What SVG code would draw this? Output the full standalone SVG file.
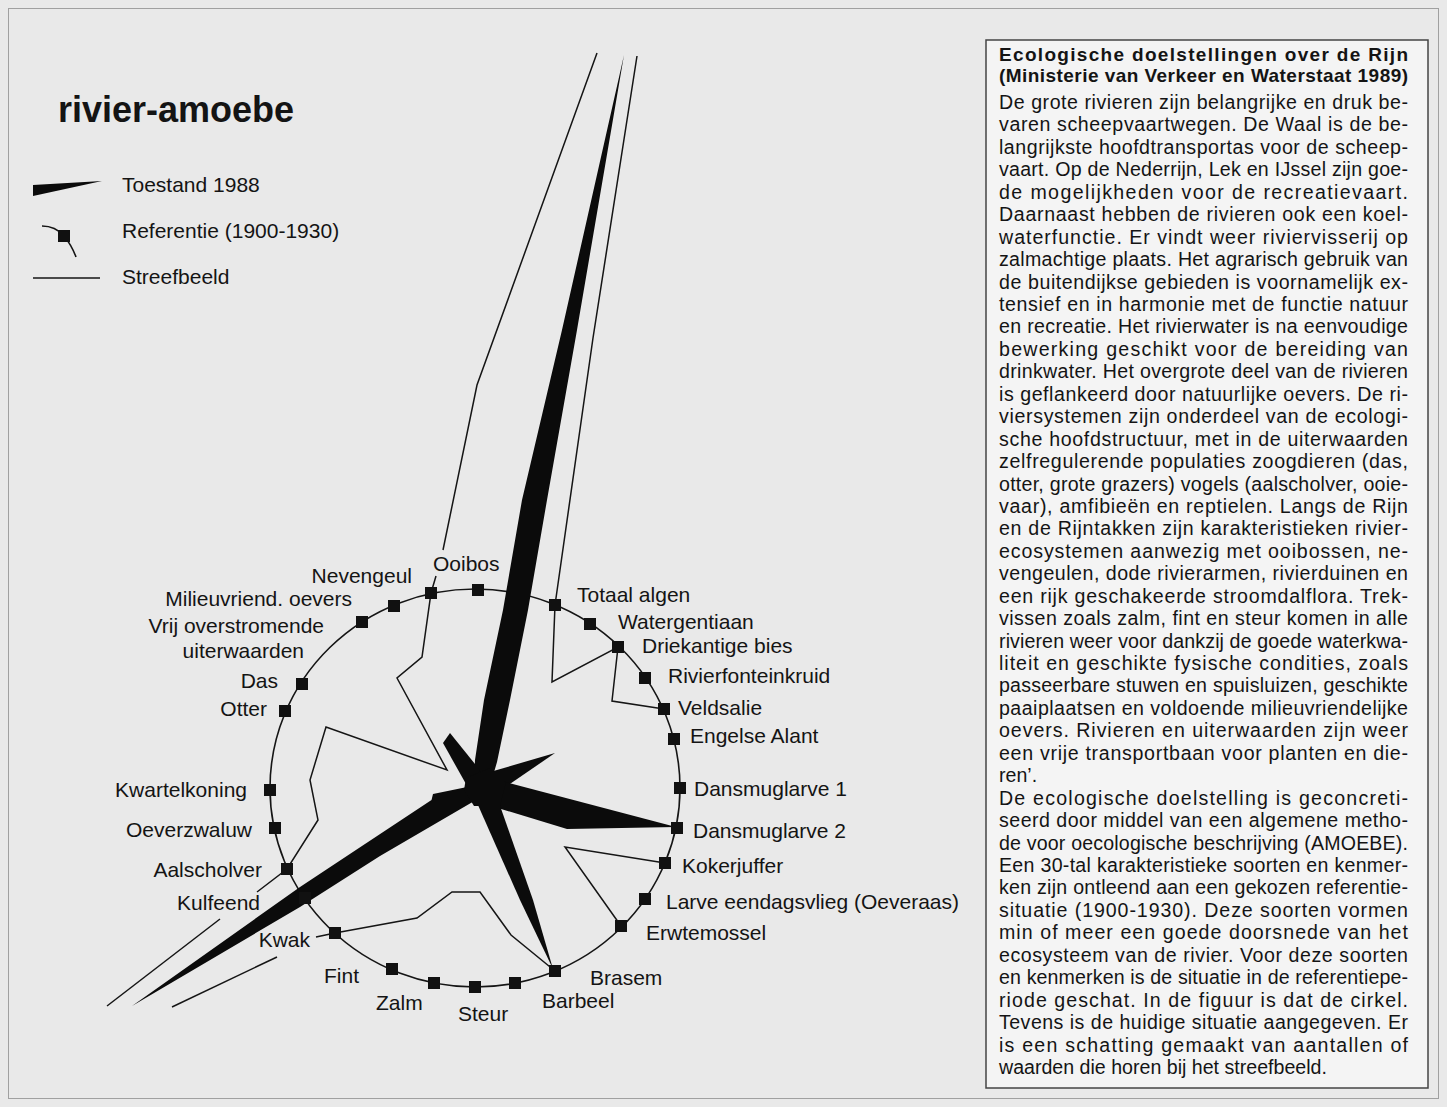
<svg xmlns="http://www.w3.org/2000/svg" width="1447" height="1107" viewBox="0 0 1447 1107">
<style>
text{font-family:"Liberation Sans",Arial,Helvetica,sans-serif;fill:#141414}
.lbl{font-size:21px}
.lble{font-size:21px;text-anchor:end}
.body{font-size:19.6px}
.hd{font-size:19px;font-weight:bold}
.title{font-size:36px;font-weight:bold}
.sq{fill:#111}
.ref{fill:none;stroke:#151515;stroke-width:1.6}
.goal{fill:none;stroke:#151515;stroke-width:1.5;stroke-linejoin:miter}
.cur{fill:#0b0b0b}
</style>
<defs>
<rect id="sq" x="-6" y="-6" width="12" height="12" fill="#111"/>
</defs>
<rect x="0" y="0" width="1447" height="1107" fill="#e9e9e9"/>
<rect x="8.5" y="8.5" width="1430" height="1090" fill="none" stroke="#a0a0a0" stroke-width="1"/>

<g id="title"><text class="title" x="58" y="122">rivier-amoebe</text></g>

<g id="legend">
<polygon class="cur" points="33,185 102,181 33,196"/>
<text class="lbl" x="122" y="192">Toestand 1988</text>
<path class="ref" d="M42,226 C50,226 58,229 64,236 C69,242 73,249 76,257"/>
<use href="#sq" x="64" y="236"/>
<text class="lbl" x="122" y="238">Referentie (1900-1930)</text>
<line class="goal" x1="33" y1="278" x2="100" y2="278"/>
<text class="lbl" x="122" y="284">Streefbeeld</text>
</g>

<g id="connectors">
<ellipse id="referentie-cirkel" class="ref" cx="475" cy="788" rx="205" ry="199"/>
<g id="streefbeeld" class="goal">
<polyline points="436,576 431,593 422,657 397,678 447,770 326,727 310,780 318,820 287,869 257,892"/>
<polyline points="220,919 107,1006"/>
<polyline points="172,1007 277,957"/>
<polyline points="316,937 335,933 417,918 452,892 480,892 511,935 555,971"/>
<polyline points="621,926 565,847 665,863"/>
<polyline points="664,709 612,701 618,647 552,682 555,605 593,338 637,56"/>
<polyline points="597,53 477,385 443,550"/>
</g>
</g>

<g id="toestand-1988" class="cur">
<polygon points="624,55 577,330 547,500 528,610 510,700 497,762 490,786 474,788 475,760 484,700 503,610 522,500 562,330"/>
<polygon points="443,743 450,733 479,769 484,788 466,784"/>
<polygon points="490,772 555,753 507,786"/>
<polygon points="498,780 676,827 567,829 488,805"/>
<polygon points="474,796 498,800 533,900 553,969 520,900"/>
<polygon points="472,786 433,794 431.5,800 300,887 132,1006 300,907 380,856 476,800"/>
<polygon points="466,778 490,768 506,782 500,806 474,806 464,790"/>
</g>

<g id="node-ooibos"><use href="#sq" x="478" y="590"/><text class="lbl" x="433" y="571">Ooibos</text></g>
<g id="node-nevengeul"><use href="#sq" x="431" y="593"/><text class="lble" x="412" y="583">Nevengeul</text></g>
<g id="node-milieuvriend"><use href="#sq" x="394" y="606"/><text class="lble" x="352" y="606">Milieuvriend. oevers</text></g>
<g id="node-vrij-overstromend"><use href="#sq" x="362" y="622"/><text class="lble" x="324" y="633">Vrij overstromende</text><text class="lble" x="304" y="658">uiterwaarden</text></g>
<g id="node-das"><use href="#sq" x="302" y="684"/><text class="lble" x="278" y="688">Das</text></g>
<g id="node-otter"><use href="#sq" x="285" y="711"/><text class="lble" x="267" y="716">Otter</text></g>
<g id="node-kwartelkoning"><use href="#sq" x="270" y="790"/><text class="lble" x="247" y="797">Kwartelkoning</text></g>
<g id="node-oeverzwaluw"><use href="#sq" x="275" y="828"/><text class="lble" x="252" y="837">Oeverzwaluw</text></g>
<g id="node-aalscholver"><use href="#sq" x="287" y="869"/><text class="lble" x="262" y="877">Aalscholver</text></g>
<g id="node-kulfeend"><use href="#sq" x="305" y="898"/><text class="lble" x="260" y="910">Kulfeend</text></g>
<g id="node-kwak"><use href="#sq" x="335" y="933"/><text class="lble" x="310" y="947">Kwak</text></g>
<g id="node-fint"><use href="#sq" x="392" y="969"/><text class="lbl" x="324" y="983">Fint</text></g>
<g id="node-zalm"><use href="#sq" x="434" y="983"/><text class="lbl" x="376" y="1010">Zalm</text></g>
<g id="node-steur"><use href="#sq" x="475" y="987"/><text class="lbl" x="458" y="1021">Steur</text></g>
<g id="node-barbeel"><use href="#sq" x="515" y="983"/><text class="lbl" x="542" y="1008">Barbeel</text></g>
<g id="node-brasem"><use href="#sq" x="555" y="971"/><text class="lbl" x="590" y="985">Brasem</text></g>
<g id="node-erwtemossel"><use href="#sq" x="621" y="926"/><text class="lbl" x="646" y="940">Erwtemossel</text></g>
<g id="node-larve-eendagsvlieg"><use href="#sq" x="645" y="899"/><text class="lbl" x="666" y="909">Larve eendagsvlieg (Oeveraas)</text></g>
<g id="node-kokerjuffer"><use href="#sq" x="665" y="863"/><text class="lbl" x="682" y="873">Kokerjuffer</text></g>
<g id="node-dansmuglarve-2"><use href="#sq" x="677" y="828"/><text class="lbl" x="693" y="838">Dansmuglarve 2</text></g>
<g id="node-dansmuglarve-1"><use href="#sq" x="680" y="788"/><text class="lbl" x="694" y="796">Dansmuglarve 1</text></g>
<g id="node-engelse-alant"><use href="#sq" x="674" y="739"/><text class="lbl" x="690" y="743">Engelse Alant</text></g>
<g id="node-veldsalie"><use href="#sq" x="664" y="709"/><text class="lbl" x="678" y="715">Veldsalie</text></g>
<g id="node-rivierfonteinkruid"><use href="#sq" x="645" y="678"/><text class="lbl" x="668" y="683">Rivierfonteinkruid</text></g>
<g id="node-driekantige-bies"><use href="#sq" x="618" y="647"/><text class="lbl" x="642" y="653">Driekantige bies</text></g>
<g id="node-watergentiaan"><use href="#sq" x="590" y="624"/><text class="lbl" x="618" y="629">Watergentiaan</text></g>
<g id="node-totaal-algen"><use href="#sq" x="555" y="605"/><text class="lbl" x="577" y="602">Totaal algen</text></g>

<g id="textbox">
<rect x="986" y="40" width="442" height="1048" fill="#f4f4f4" stroke="#444" stroke-width="1.5"/>
<text class="hd" x="999" y="61" textLength="409" lengthAdjust="spacing">Ecologische doelstellingen over de Rijn</text>
<text class="hd" x="999" y="82" textLength="409" lengthAdjust="spacing">(Ministerie van Verkeer en Waterstaat 1989)</text>
<text class="body" x="999" y="109" textLength="409" lengthAdjust="spacing">De grote rivieren zijn belangrijke en druk be-</text>
<text class="body" x="999" y="131.4" textLength="409" lengthAdjust="spacing">varen scheepvaartwegen. De Waal is de be-</text>
<text class="body" x="999" y="153.9" textLength="409" lengthAdjust="spacing">langrijkste hoofdtransportas voor de scheep-</text>
<text class="body" x="999" y="176.3" textLength="409" lengthAdjust="spacing">vaart. Op de Nederrijn, Lek en IJssel zijn goe-</text>
<text class="body" x="999" y="198.8" textLength="409" lengthAdjust="spacing">de mogelijkheden voor de recreatievaart.</text>
<text class="body" x="999" y="221.2" textLength="409" lengthAdjust="spacing">Daarnaast hebben de rivieren ook een koel-</text>
<text class="body" x="999" y="243.6" textLength="409" lengthAdjust="spacing">waterfunctie. Er vindt weer riviervisserij op</text>
<text class="body" x="999" y="266.1" textLength="409" lengthAdjust="spacing">zalmachtige plaats. Het agrarisch gebruik van</text>
<text class="body" x="999" y="288.5" textLength="409" lengthAdjust="spacing">de buitendijkse gebieden is voornamelijk ex-</text>
<text class="body" x="999" y="311" textLength="409" lengthAdjust="spacing">tensief en in harmonie met de functie natuur</text>
<text class="body" x="999" y="333.4" textLength="409" lengthAdjust="spacing">en recreatie. Het rivierwater is na eenvoudige</text>
<text class="body" x="999" y="355.8" textLength="409" lengthAdjust="spacing">bewerking geschikt voor de bereiding van</text>
<text class="body" x="999" y="378.3" textLength="409" lengthAdjust="spacing">drinkwater. Het overgrote deel van de rivieren</text>
<text class="body" x="999" y="400.7" textLength="409" lengthAdjust="spacing">is geflankeerd door natuurlijke oevers. De ri-</text>
<text class="body" x="999" y="423.2" textLength="409" lengthAdjust="spacing">viersystemen zijn onderdeel van de ecologi-</text>
<text class="body" x="999" y="445.6" textLength="409" lengthAdjust="spacing">sche hoofdstructuur, met in de uiterwaarden</text>
<text class="body" x="999" y="468" textLength="409" lengthAdjust="spacing">zelfregulerende populaties zoogdieren (das,</text>
<text class="body" x="999" y="490.5" textLength="409" lengthAdjust="spacing">otter, grote grazers) vogels (aalscholver, ooie-</text>
<text class="body" x="999" y="512.9" textLength="409" lengthAdjust="spacing">vaar), amfibieën en reptielen. Langs de Rijn</text>
<text class="body" x="999" y="535.4" textLength="409" lengthAdjust="spacing">en de Rijntakken zijn karakteristieken rivier-</text>
<text class="body" x="999" y="557.8" textLength="409" lengthAdjust="spacing">ecosystemen aanwezig met ooibossen, ne-</text>
<text class="body" x="999" y="580.2" textLength="409" lengthAdjust="spacing">vengeulen, dode rivierarmen, rivierduinen en</text>
<text class="body" x="999" y="602.7" textLength="409" lengthAdjust="spacing">een rijk geschakeerde stroomdalflora. Trek-</text>
<text class="body" x="999" y="625.1" textLength="409" lengthAdjust="spacing">vissen zoals zalm, fint en steur komen in alle</text>
<text class="body" x="999" y="647.6" textLength="409" lengthAdjust="spacing">rivieren weer voor dankzij de goede waterkwa-</text>
<text class="body" x="999" y="670" textLength="409" lengthAdjust="spacing">liteit en geschikte fysische condities, zoals</text>
<text class="body" x="999" y="692.4" textLength="409" lengthAdjust="spacing">passeerbare stuwen en spuisluizen, geschikte</text>
<text class="body" x="999" y="714.9" textLength="409" lengthAdjust="spacing">paaiplaatsen en voldoende milieuvriendelijke</text>
<text class="body" x="999" y="737.3" textLength="409" lengthAdjust="spacing">oevers. Rivieren en uiterwaarden zijn weer</text>
<text class="body" x="999" y="759.8" textLength="409" lengthAdjust="spacing">een vrije transportbaan voor planten en die-</text>
<text class="body" x="999" y="782.2">ren’.</text>
<text class="body" x="999" y="804.6" textLength="409" lengthAdjust="spacing">De ecologische doelstelling is geconcreti-</text>
<text class="body" x="999" y="827.1" textLength="409" lengthAdjust="spacing">seerd door middel van een algemene metho-</text>
<text class="body" x="999" y="849.5" textLength="409" lengthAdjust="spacing">de voor oecologische beschrijving (AMOEBE).</text>
<text class="body" x="999" y="872" textLength="409" lengthAdjust="spacing">Een 30-tal karakteristieke soorten en kenmer-</text>
<text class="body" x="999" y="894.4" textLength="409" lengthAdjust="spacing">ken zijn ontleend aan een gekozen referentie-</text>
<text class="body" x="999" y="916.8" textLength="409" lengthAdjust="spacing">situatie (1900-1930). Deze soorten vormen</text>
<text class="body" x="999" y="939.3" textLength="409" lengthAdjust="spacing">min of meer een goede doorsnede van het</text>
<text class="body" x="999" y="961.7" textLength="409" lengthAdjust="spacing">ecosysteem van de rivier. Voor deze soorten</text>
<text class="body" x="999" y="984.2" textLength="409" lengthAdjust="spacing">en kenmerken is de situatie in de referentiepe-</text>
<text class="body" x="999" y="1006.6" textLength="409" lengthAdjust="spacing">riode geschat. In de figuur is dat de cirkel.</text>
<text class="body" x="999" y="1029" textLength="409" lengthAdjust="spacing">Tevens is de huidige situatie aangegeven. Er</text>
<text class="body" x="999" y="1051.5" textLength="409" lengthAdjust="spacing">is een schatting gemaakt van aantallen of</text>
<text class="body" x="999" y="1073.9">waarden die horen bij het streefbeeld.</text>
</g>
</svg>
